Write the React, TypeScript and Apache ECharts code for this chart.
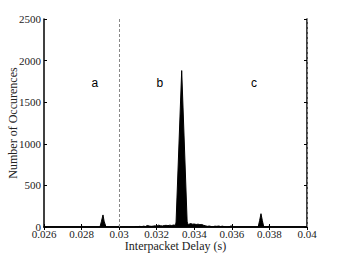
import React, { useEffect, useRef } from "react";
import * as echarts from "echarts";

const delays = [
  0.026, 0.028, 0.02801, 0.02803, 0.0289, 0.02898, 0.02906, 0.02914, 0.0292, 0.0293,
  0.02998, 0.03, 0.03002, 0.0305, 0.03052, 0.03054, 0.0308, 0.0309, 0.031, 0.0311,
  0.0312, 0.0313, 0.0314, 0.0315, 0.0316, 0.0317, 0.0318, 0.0319, 0.032, 0.0321,
  0.0322, 0.0323, 0.0324, 0.0325, 0.0326, 0.0327, 0.0328, 0.0329, 0.033, 0.03303,
  0.03333, 0.03362, 0.03366, 0.0337, 0.0338, 0.0339, 0.034, 0.0341, 0.0342, 0.0343,
  0.0344, 0.0345, 0.0346, 0.0347, 0.0348, 0.0349, 0.035, 0.0351, 0.0352, 0.0353,
  0.0354, 0.0355, 0.0356, 0.0357, 0.0358, 0.03598, 0.036, 0.03602, 0.0362, 0.0373,
  0.0374, 0.03748, 0.03755, 0.03762, 0.0377, 0.0378, 0.03801, 0.03803, 0.03805, 0.04,
];
const counts = [
  0, 0, 14, 0, 0, 0, 70, 145, 70, 0,
  0, 14, 0, 0, 6, 0, 0, 5, 3, 8,
  4, 10, 6, 18, 12, 8, 10, 14, 10, 22,
  16, 12, 18, 20, 16, 22, 18, 24, 20, 60,
  1880, 60, 40, 30, 42, 34, 36, 30, 34, 28,
  30, 20, 14, 8, 12, 6, 4, 10, 8, 12,
  6, 10, 4, 0, 0, 14, 16, 0, 0, 0,
  0, 80, 160, 80, 0, 0, 10, 0, 0, 0,
];
const dividers = [0.0311, 0.03555];
const regionLabels = ["a", "b", "c"];
const regionX = [0.0287, 0.03217, 0.03718];
const regionY = 1730;
const xTicks = { min: 0.026, max: 0.04, interval: 0.002 };
const yTicks = { min: 0, max: 2500, interval: 500 };

export default function App() {
  const ref = useRef<HTMLDivElement>(null);
  useEffect(() => {
    if (!ref.current) return;
    const chart = echarts.init(ref.current, null, { renderer: "svg" });
    const serif = "'Liberation Serif', 'Times New Roman', serif";
    const axisLine = { show: true, lineStyle: { color: "#000", width: 1.5 } };
    const tick = { show: true, inside: true, length: 3, lineStyle: { color: "#000", width: 1 } };
    chart.setOption({
      animation: false,
      backgroundColor: "#fff",
      grid: { left: 44, right: 33, top: 19, bottom: 28, outerBoundsMode: "none", containLabel: false },
      xAxis: [
        {
          type: "value",
          ...xTicks,
          axisLine,
          axisTick: tick,
          splitLine: { show: false },
          axisLabel: {
            color: "#222",
            fontFamily: serif,
            fontSize: 11,
            margin: 1,
            formatter: (v: number) => String(parseFloat(v.toFixed(3))),
          },
          name: "Interpacket Delay (s)",
          nameLocation: "middle",
          nameGap: 13,
          nameMoveOverlap: false,
          nameTextStyle: { color: "#222", fontFamily: serif, fontSize: 12 },
        },
        {
          type: "value",
          position: "top",
          ...xTicks,
          axisLine,
          axisTick: tick,
          splitLine: { show: false },
          axisLabel: { show: false },
        },
      ],
      yAxis: [
        {
          type: "value",
          ...yTicks,
          axisLine,
          axisTick: tick,
          splitLine: { show: false },
          axisLabel: {
            color: "#222",
            fontFamily: serif,
            fontSize: 11,
            margin: 3,
            formatter: (v: number) => String(v),
          },
          name: "Number of Occurences",
          nameLocation: "middle",
          nameGap: 25,
          nameMoveOverlap: false,
          nameTextStyle: { color: "#222", fontFamily: serif, fontSize: 12 },
        },
        {
          type: "value",
          position: "right",
          ...yTicks,
          axisLine,
          axisTick: tick,
          splitLine: { show: false },
          axisLabel: { show: false },
        },
      ],
      series: [
        {
          type: "line",
          data: delays.map((d, i) => [d, counts[i]]),
          showSymbol: false,
          symbol: "none",
          lineStyle: { color: "#000", width: 1 },
          areaStyle: { color: "#000", opacity: 1 },
          markLine: {
            silent: true,
            symbol: "none",
            label: { show: false },
            lineStyle: { color: "#888", type: [3, 2], width: 1 },
            data: dividers.map((x) => ({ xAxis: x })),
          },
          markPoint: {
            symbol: "circle",
            symbolSize: 0,
            itemStyle: { color: "#000" },
            label: {
              show: true,
              position: "inside",
              color: "#000",
              textBorderWidth: 0,
              fontFamily: "'Liberation Sans', Arial, sans-serif",
              fontSize: 12,
              formatter: (p: any) => p.name,
            },
            data: regionLabels.map((n, i) => ({ name: n, coord: [regionX[i], regionY] })),
          },
        },
      ],
    });
    return () => chart.dispose();
  }, []);
  return (
    <div
      ref={ref}
      style={{ position: "absolute", left: 0, top: 0, width: 340, height: 255 }}
    />
  );
}
